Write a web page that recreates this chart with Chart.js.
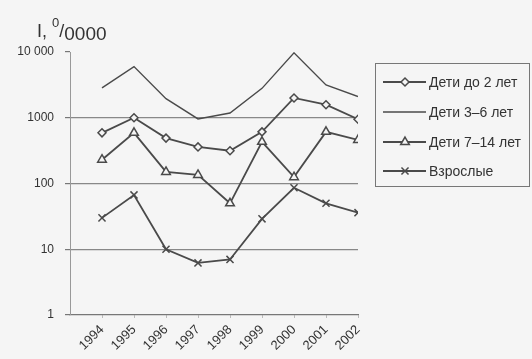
<!DOCTYPE html>
<html>
<head>
<meta charset="utf-8">
<script src="https://cdn.jsdelivr.net/npm/chart.js@4/dist/chart.umd.min.js"></script>
<style>
  body { margin: 0; background: #f5f5f5; }
  #wrap { position: relative; width: 532px; height: 359px; }
  #ylabel { position: absolute; left: 37px; top: 18px; font: 18px "Liberation Sans", Arial, sans-serif; color: #333; white-space: nowrap; }
  #ylabel sup { font-size: 13px; position: relative; top: -3px; vertical-align: super; }
  #ylabel .low { position: relative; top: 3px; font-size: 19px; }
</style>
</head>
<body>
<div id="wrap">
  <canvas id="myChart" width="532" height="359"></canvas>
  <div id="ylabel">I, <sup>0</sup>/<span class="low">0000</span></div>
</div>
<script>
// years and series (cases per 10 000)
const years = [1994, 1995, 1996, 1997, 1998, 1999, 2000, 2001, 2002];
const seriesNames = ['Дети до 2 лет', 'Дети 3–6 лет', 'Дети 7–14 лет', 'Взрослые'];
const kids0to2 = [590, 1000, 490, 360, 315, 610, 2000, 1580, 950];
const kids3to6 = [2850, 6000, 1950, 960, 1180, 2800, 9700, 3150, 2100];
const kids7to14 = [230, 590, 150, 135, 50, 430, 125, 610, 460];
const adults = [30, 67, 10, 6.2, 7, 29, 86, 50, 36];
const yTicks = [1, 10, 100, 1000, 10000];

const lineColor = '#4a4a4a';
const font = { family: '"Liberation Sans", Arial, sans-serif', size: 13 };

function pts(vals) {
    return vals.map(function (v, i) { return { x: years[i], y: v }; });
}

const styles = [
    { pointStyle: 'rectRot', pointRadius: 4 },
    { pointStyle: false, pointRadius: 0 },
    { pointStyle: 'triangle', pointRadius: 5 },
    { pointStyle: 'crossRot', pointRadius: 5 }
];
const allData = [kids0to2, kids3to6, kids7to14, adults];

const datasets = allData.map(function (vals, i) {
    return {
        label: seriesNames[i],
        data: pts(vals),
        borderColor: lineColor,
        backgroundColor: '#f5f5f5',
        borderWidth: i == 1 ? 1.4 : 1.8,
        pointStyle: styles[i].pointStyle,
        pointRadius: styles[i].pointRadius,
        pointBorderColor: lineColor,
        pointBackgroundColor: '#f5f5f5',
        pointBorderWidth: 1.5,
        tension: 0
    };
});

// legend with line + marker, drawn by hand
const boxLegend = {
    id: 'boxLegend',
    afterDraw(chart) {
        const ctx = chart.ctx;
        ctx.save();
        ctx.strokeStyle = '#777';
        ctx.lineWidth = 1;
        ctx.strokeRect(375.5, 63.5, 154, 123);
        const rows = [82, 112, 142, 171];
        chart.data.datasets.forEach(function (ds, i) {
            const y = rows[i];
            ctx.strokeStyle = lineColor;
            ctx.lineWidth = ds.borderWidth;
            ctx.beginPath();
            ctx.moveTo(383, y);
            ctx.lineTo(426, y);
            ctx.stroke();
            if (ds.pointStyle) {
                ctx.fillStyle = '#f5f5f5';
                ctx.lineWidth = 1.5;
                Chart.helpers.drawPoint(ctx, { pointStyle: ds.pointStyle, radius: ds.pointRadius, rotation: 0, borderWidth: 1.5 }, 405, y);
            }
            ctx.fillStyle = '#333';
            ctx.font = '14px "Liberation Sans", Arial, sans-serif';
            ctx.textBaseline = 'middle';
            ctx.fillText(ds.label, 429, y + 1);
        });
        ctx.restore();
    }
};

const ctx = document.getElementById('myChart');
const myChart = new Chart(ctx, {
    type: 'line',
    data: { datasets: datasets },
    options: {
        responsive: false,
        animation: false,
        layout: { padding: { top: 52, right: 174, left: 0, bottom: 0 } },
        plugins: { legend: { display: false }, tooltip: { enabled: false } },
        scales: {
            x: {
                type: 'linear',
                min: 1993,
                max: 2002,
                afterBuildTicks: function (axis) {
                    axis.ticks = years.map(function (y) { return { value: y }; });
                },
                afterFit: function (axis) { axis.height = 44; },
                ticks: { minRotation: 45, maxRotation: 45, color: '#333', font: font, padding: 4,
                         callback: function (v) { return String(v); } },
                grid: { drawOnChartArea: false, tickLength: 3, tickColor: '#bbb' },
                border: { color: '#777', width: 1.2 }
            },
            y: {
                type: 'logarithmic',
                min: 1,
                max: 10000,
                afterBuildTicks: function (axis) {
                    axis.ticks = yTicks.map(function (v) { return { value: v }; });
                },
                afterFit: function (axis) { axis.width = 70; },
                ticks: { color: '#333', font: { family: font.family, size: 12 }, padding: 11,
                         callback: function (v) { return v == 10000 ? '10 000' : String(v); } },
                grid: {
                    tickLength: 5,
                    tickColor: '#777',
                    color: function (c) {
                        const v = c.tick && c.tick.value;
                        return (v == 10 || v == 100 || v == 1000) ? '#888' : 'rgba(0,0,0,0)';
                    },
                    lineWidth: 1.2
                },
                border: { color: '#999', width: 1 }
            }
        }
    },
    plugins: [boxLegend]
});
</script>
</body>
</html>
